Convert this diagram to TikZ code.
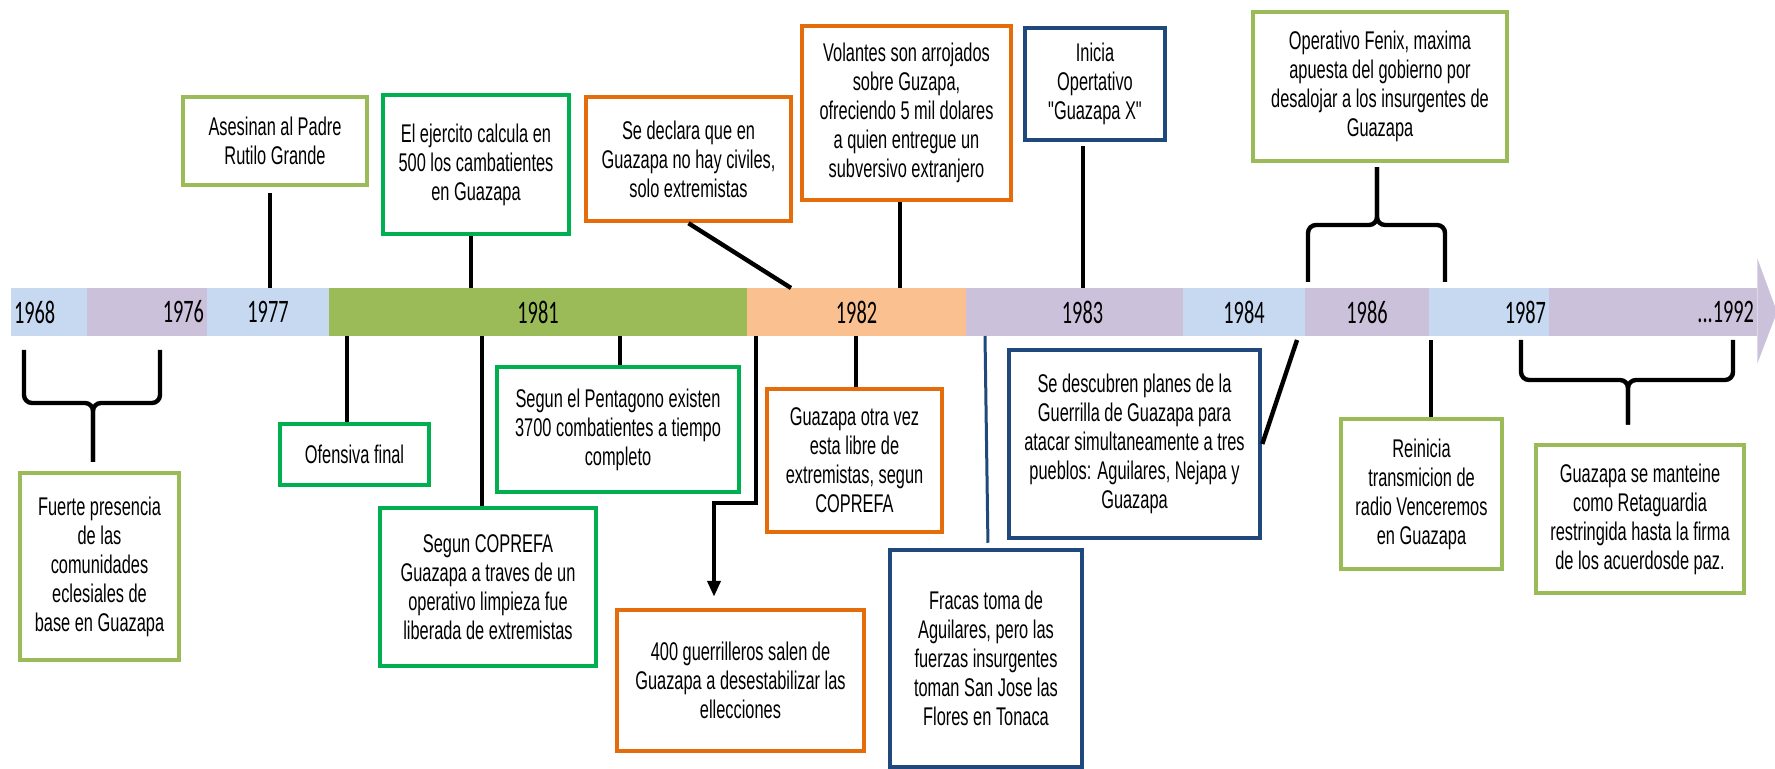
\documentclass[tikz,border=0pt]{standalone}
\usepackage{fontspec}
\setmainfont{Liberation Sans}[FakeStretch=0.64]
\newfontfamily\anio{Carlito}[FakeStretch=0.62]
\font\rectas="Liberation Sans:extend=0.64" at 12.8pt
\newcommand{\comillas}{{\rectas\char34}}
\usetikzlibrary{arrows.meta}
\tikzset{>=latex}
\definecolor{azulclaro}{HTML}{C6D9F1}
\definecolor{lila}{HTML}{CCC1DA}
\definecolor{oliva}{HTML}{9BBB59}
\definecolor{durazno}{HTML}{FAC090}
\definecolor{verde}{HTML}{00B050}
\definecolor{naranja}{HTML}{E46C0A}
\definecolor{azul}{HTML}{1F497D}
\tikzstyle{evento}=[draw, fill=white, line width=2.25pt, align=center, inner sep=0pt,
  font=\fontsize{12.8}{14.5}\selectfont]
\tikzstyle{tramo}=[rectangle, minimum height=24pt, inner ysep=0pt, inner xsep=1.5pt,
  font=\anio\fontsize{16.4}{18}\selectfont]
\tikzstyle{enlace}=[line width=2.2pt, black]

\begin{document}
\begin{tikzpicture}[x=0.5pt, y=-0.5pt]
  \useasboundingbox (0,0) rectangle (1775,769);

  % linea de tiempo
  \node[tramo, fill=azulclaro, text width=35pt, align=left] (s1968) at (49,312) {1968};
  \node[tramo, fill=lila, text width=57pt, align=right] (s1976) at (147,312) {1976};
  \node[tramo, fill=azulclaro, text width=58pt, align=center] (s1977) at (268,312) {1977};
  \node[tramo, fill=oliva, text width=206pt, align=center] (s1981) at (538,312) {1981};
  \node[tramo, fill=durazno, text width=106.5pt, align=center] (s1982) at (856.5,312) {1982};
  \node[tramo, fill=lila, text width=105.5pt, align=center] (s1983) at (1074.5,312) {\hspace*{8pt}1983};
  \node[tramo, fill=azulclaro, text width=58pt, align=center] (s1984) at (1244,312) {1984};
  \node[tramo, fill=lila, text width=59pt, align=center] (s1986) at (1367,312) {1986};
  \node[tramo, fill=azulclaro, text width=57pt, align=right] (s1987) at (1489,312) {1987};
  \node[tramo, fill=lila, text width=101pt, align=right] (s1992) at (1653,312) {...1992\hspace*{2.5pt}};
  \fill[lila] (s1992.north east) -- ++(0,-29) -- (1777,312)
              -- ([yshift=-13.5pt]s1992.south east) -- (s1992.south east) -- cycle;

  % eventos arriba
  \node[evento, draw=oliva, minimum width=92pt, minimum height=44pt] (rutilo) at (275,141)
    {Asesinan al Padre\\Rutilo Grande};
  \node[evento, draw=verde, minimum width=93pt, minimum height=69.5pt] (ejercito) at (476,164.5)
    {El ejercito calcula en\\500 los cambatientes\\en Guazapa};
  \node[evento, draw=naranja, minimum width=102.5pt, minimum height=62pt] (civiles) at (688.5,159)
    {Se declara que en\\Guazapa no hay civiles,\\solo extremistas};
  \node[evento, draw=naranja, minimum width=104.5pt, minimum height=87pt] (volantes) at (906.5,113)
    {Volantes son arrojados\\sobre Guzapa,\\ofreciendo 5 mil dolares\\a quien entregue un\\subversivo extranjero};
  \node[evento, draw=azul, minimum width=70pt, minimum height=56pt] (guazapaX) at (1095,84)
    {Inicia\\Opertativo\\\comillas Guazapa X\comillas};
  \node[evento, draw=oliva, minimum width=127pt, minimum height=74.5pt] (fenix) at (1380,86.5)
    {Operativo Fenix, maxima\\apuesta del gobierno por\\desalojar a los insurgentes de\\Guazapa};

  % eventos abajo
  \node[evento, draw=oliva, minimum width=79.5pt, minimum height=93.5pt] (comunidades) at (99.5,566.5)
    {Fuerte presencia\\de las\\comunidades\\eclesiales de\\base en Guazapa};
  \node[evento, draw=verde, minimum width=74.5pt, minimum height=30.5pt] (ofensiva) at (354.5,454.5)
    {Ofensiva final};
  \node[evento, draw=verde, minimum width=108pt, minimum height=79pt] (coprefa) at (488,587)
    {Segun COPREFA\\Guazapa a traves de un\\operativo limpieza fue\\liberada de extremistas};
  \node[evento, draw=verde, minimum width=121pt, minimum height=62.5pt] (pentagono) at (618,429.5)
    {Segun el Pentagono existen\\3700 combatientes a tiempo\\completo};
  \node[evento, draw=naranja, minimum width=123.5pt, minimum height=70.5pt] (elecciones) at (740.5,680.5)
    {400 guerrilleros salen de\\Guazapa a desestabilizar las\\ellecciones};
  \node[evento, draw=naranja, minimum width=87.5pt, minimum height=71.5pt] (libre) at (854.5,460.5)
    {Guazapa otra vez\\esta libre de\\extremistas, segun\\COPREFA};
  \node[evento, draw=azul, minimum width=96pt, minimum height=108.5pt] (fracaso) at (986,658.5)
    {Fracas toma de\\Aguilares, pero las\\fuerzas insurgentes\\toman San Jose las\\Flores en Tonaca};
  \node[evento, draw=azul, minimum width=125.5pt, minimum height=94pt] (planes) at (1134.5,444)
    {Se descubren planes de la\\Guerrilla de Guazapa para\\atacar simultaneamente a tres\\pueblos: Aguilares, Nejapa y\\Guazapa};
  \node[evento, draw=oliva, minimum width=80.5pt, minimum height=75pt] (radio) at (1421.5,494)
    {Reinicia\\transmicion de\\radio Venceremos\\en Guazapa};
  \node[evento, draw=oliva, minimum width=104pt, minimum height=74pt] (retaguardia) at (1640,519)
    {Guazapa se manteine\\como Retaguardia\\restringida hasta la firma\\de los acuerdosde paz.};

  % puntos sobre la linea
  \coordinate (p1977) at (270,288);
  \coordinate (p1981) at (471,288);
  \coordinate (p1982a) at (791,288);
  \coordinate (p1982b) at (900,288);
  \coordinate (p1983) at (1083,288);
  \coordinate (q1981a) at (347,336);
  \coordinate (q1981b) at (482,336);
  \coordinate (q1981c) at (620,336);
  \coordinate (q1982a) at (756,336);
  \coordinate (q1982b) at (856,336);
  \coordinate (q1983) at (985,336);
  \coordinate (q1984) at (1297,340);
  \coordinate (q1987) at (1431,340);
  \coordinate (codo) at (714,503);

  \draw[enlace, shorten <=3pt] (rutilo.south -| p1977) -- (p1977);
  \draw[enlace] (ejercito.south -| p1981) -- (p1981);
  \draw[enlace] (civiles.south) -- (p1982a);
  \draw[enlace] (volantes.south -| p1982b) -- (p1982b);
  \draw[enlace, shorten <=2pt] (guazapaX.south -| p1983) -- (p1983);

  \draw[enlace] (q1981a) -- (q1981a |- ofensiva.north);
  \draw[enlace] (q1981b) -- (q1981b |- coprefa.north);
  \draw[enlace] (q1981c) -- (q1981c |- pentagono.north);
  \draw[enlace, -{Triangle[length=8pt,width=6.5pt]}, shorten >=5.5pt]
    (q1982a) |- (codo) -- (codo |- elecciones.north);
  \draw[enlace] (q1982b) -- (q1982b |- libre.north);
  \draw[line width=1.5pt, azul, shorten >=2.5pt] (q1983) -- ([xshift=1pt]fracaso.north);
  \draw[enlace] (planes.east) -- (q1984);
  \draw[enlace] (q1987) -- (q1987 |- radio.north);

  % llaves
  \coordinate (a1) at (24,350);
  \coordinate (a2) at (160,350);
  \coordinate (am) at (93,403);
  \draw[enlace, rounded corners=4pt, shorten >=4.5pt] (a1) |- (am) -- (am |- comunidades.north);
  \draw[enlace, rounded corners=4pt, shorten >=4.5pt] (a2) |- (am) -- (am |- comunidades.north);

  \coordinate (f1) at (1308,282);
  \coordinate (f2) at (1445,282);
  \coordinate (fm) at (1377,225);
  \draw[enlace, rounded corners=4pt, shorten >=2pt] (f1) |- (fm) -- (fm |- fenix.south);
  \draw[enlace, rounded corners=4pt, shorten >=2pt] (f2) |- (fm) -- (fm |- fenix.south);

  \coordinate (r1) at (1521,340);
  \coordinate (r2) at (1733,340);
  \coordinate (rm) at (1628,380);
  \draw[enlace, rounded corners=4pt, shorten >=9pt] (r1) |- (rm) -- (rm |- retaguardia.north);
  \draw[enlace, rounded corners=4pt, shorten >=9pt] (r2) |- (rm) -- (rm |- retaguardia.north);

\end{tikzpicture}
\end{document}
